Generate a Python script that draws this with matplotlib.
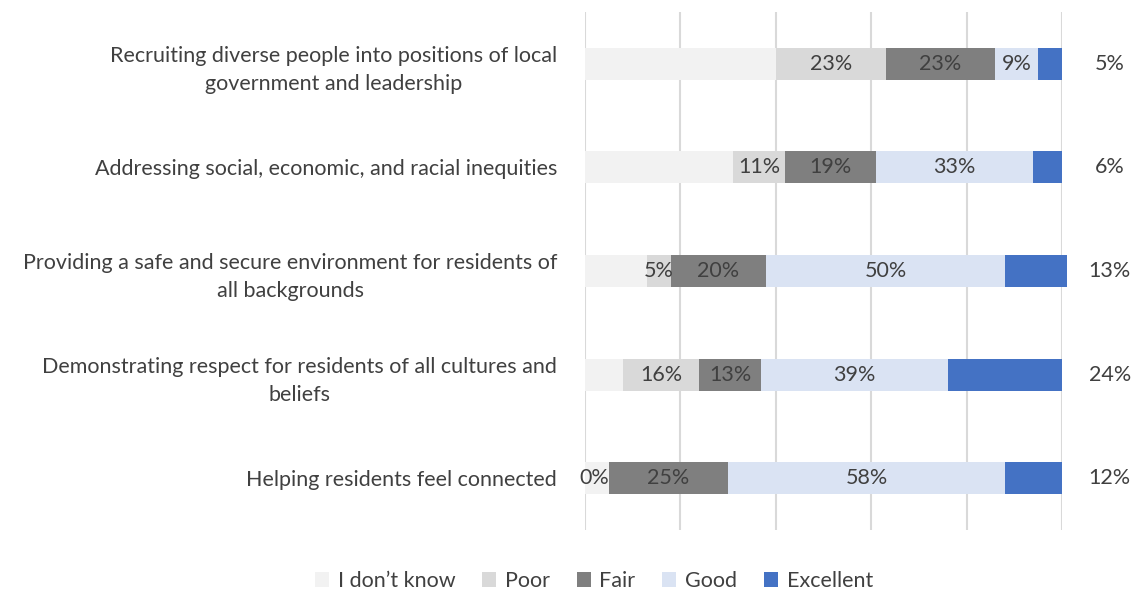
import matplotlib
matplotlib.use("Agg")
import matplotlib.pyplot as plt
import numpy as np
from matplotlib.patches import Patch

# categories, top to bottom
categorias = [
    "Recruiting diverse people into positions of local\ngovernment and leadership",
    "Addressing social, economic, and racial inequities",
    "Providing a safe and secure environment for residents of\nall backgrounds",
    "Demonstrating respect for residents of all cultures and\nbeliefs",
    "Helping residents feel connected",
]
series = ["I don\u2019t know", "Poor", "Fair", "Good", "Excellent"]
no_se = [40, 31, 13, 8, 5]
malo = [23, 11, 5, 16, 0]
regular = [23, 19, 20, 13, 25]
bueno = [9, 33, 50, 39, 58]
excelente = [5, 6, 13, 24, 12]

colores = ["#F2F2F2", "#D9D9D9", "#7F7F7F", "#DAE3F3", "#4472C4"]
texto = "#404040"
tam = 15.5

plt.rcParams["font.family"] = ["Lato", "DejaVu Sans"]

fig = plt.figure(figsize=(11.43, 5.90), dpi=100)
ax = fig.add_axes([585 / 1143, 1 - 530 / 590, 477 / 1143, 518 / 590])

valores = [no_se, malo, regular, bueno, excelente]
y = np.arange(len(categorias))
izq = np.zeros(len(categorias))
for i, (nombre, vals) in enumerate(zip(series, valores)):
    vals = np.array(vals, dtype=float)
    ax.barh(y, vals, left=izq, height=0.31, color=colores[i], label=nombre,
            zorder=3, clip_on=False)
    for j in range(len(categorias)):
        if i == 0:
            continue
        txt = "%d%%" % vals[j]
        if i == 4:
            # etiqueta de Excellent fuera de la barra
            ax.text(110, y[j], txt, ha="center", va="center", fontsize=tam,
                    color=texto, clip_on=False)
        elif vals[j] == 0:
            ax.text(izq[j], y[j], txt, ha="right", va="center", fontsize=tam,
                    color=texto, zorder=4)
        else:
            ax.text(izq[j] + vals[j] / 2, y[j], txt, ha="center", va="center",
                    fontsize=tam, color=texto, zorder=4)
    izq += vals

ax.set_xlim(0, 100)
ax.set_ylim(len(categorias) - 0.5, -0.5)
ax.set_xticks([0, 20, 40, 60, 80, 100])
ax.set_xticklabels([])
ax.tick_params(axis="x", length=0)
ax.tick_params(axis="y", length=0, pad=20)
ax.set_yticks(y)
ax.set_yticklabels(categorias, fontsize=tam, color=texto)
for t in ax.get_yticklabels():
    t.set_multialignment("center")
    t.set_linespacing(1.5)
ax.grid(axis="x", color="#D9D9D9", linewidth=1.5, zorder=0)
for s in ax.spines.values():
    s.set_visible(False)

manijas = [Patch(facecolor=c, edgecolor="none") for c in colores]
fig.legend(manijas, series, loc="center", bbox_to_anchor=(594 / 1143, 1 - 581 / 590),
           ncol=5, frameon=False, fontsize=tam, labelcolor=texto,
           handlelength=0.65, handleheight=0.65, handletextpad=0.4, columnspacing=1.25)

plt.savefig("out.png", dpi=100)
